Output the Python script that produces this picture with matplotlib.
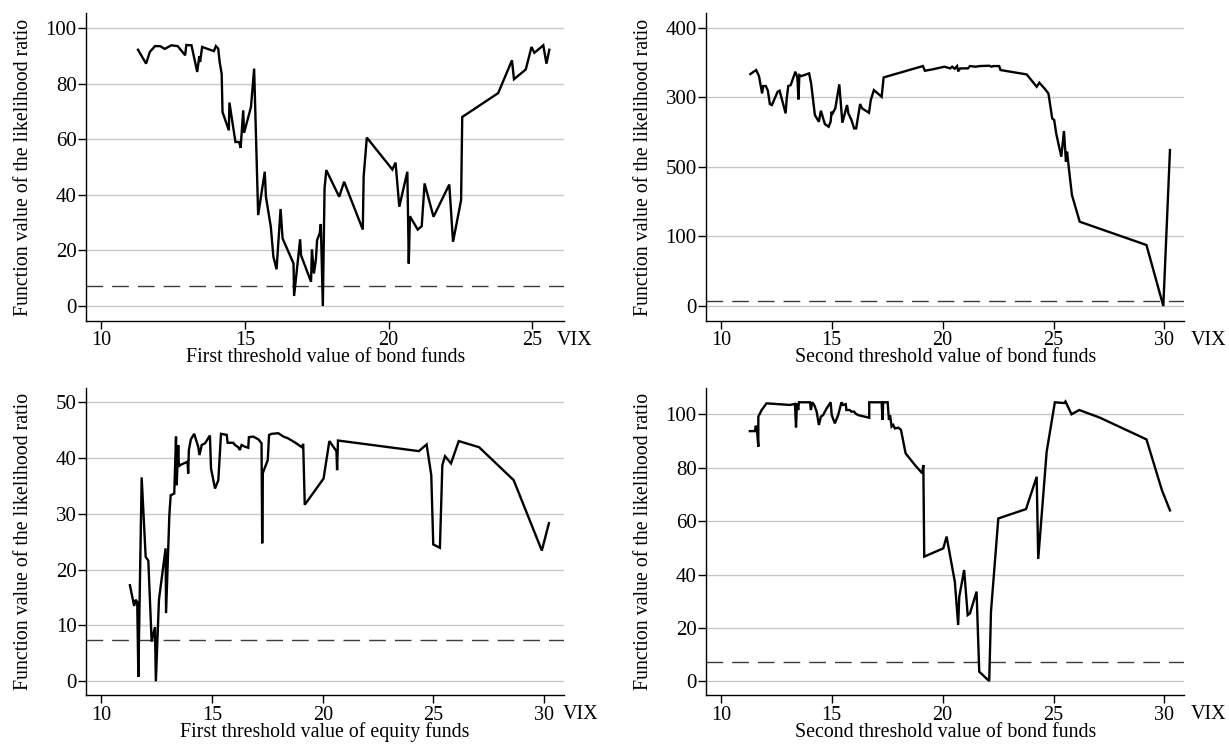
import matplotlib
matplotlib.use("Agg")
import matplotlib.pyplot as plt

plt.rcParams['font.family'] = ['Liberation Serif', 'DejaVu Serif']

# critical value of the likelihood ratio test (dashed line)
crit = 7.35

# first threshold, bond funds
bond1_vix = [11.28, 11.56, 11.69, 11.87, 12.05, 12.21, 12.44, 12.66, 12.92, 12.96,
             13.14, 13.34, 13.41, 13.44, 13.51, 13.92, 13.99, 14.07, 14.12, 14.19,
             14.22, 14.44, 14.46, 14.67, 14.80, 14.85, 14.94, 14.97, 15.21, 15.32,
             15.46, 15.69, 15.73, 15.90, 15.99, 16.10, 16.24, 16.31, 16.69, 16.71,
             16.92, 16.95, 17.30, 17.33, 17.40, 17.47, 17.51, 17.60, 17.64, 17.71,
             17.77, 17.83, 18.28, 18.45, 19.10, 19.13, 19.24, 20.13, 20.24, 20.37,
             20.65, 20.70, 20.74, 21.01, 21.15, 21.25, 21.56, 22.11, 22.24, 22.52,
             22.56, 23.81, 24.29, 24.36, 24.77, 24.97, 25.07, 25.38, 25.49, 25.59]
bond1_lr = [92.2, 87.2, 91.4, 93.5, 93.5, 92.5, 93.8, 93.5, 90.2, 93.9,
            93.8, 84.2, 89.8, 87.8, 93.2, 91.7, 93.5, 92.6, 87.8, 83.6,
            69.8, 63.2, 73.2, 59.0, 59.0, 56.9, 70.4, 62.3, 71.6, 85.4,
            32.7, 48.3, 39.3, 28.5, 17.7, 13.2, 34.9, 24.3, 15.3, 3.6,
            24.0, 18.3, 8.7, 20.4, 11.7, 16.8, 23.7, 26.1, 29.5, 0.0,
            42.3, 48.9, 39.3, 44.7, 27.5, 46.5, 60.6, 49.1, 51.6, 35.7,
            48.3, 15.3, 32.3, 27.5, 28.7, 44.1, 32.1, 43.7, 23.1, 38.1,
            68.0, 76.6, 88.4, 81.6, 85.1, 93.2, 91.1, 93.8, 87.2, 92.2]

# second threshold, bond funds (upper panel)
bond2_vix = [11.33, 11.59, 11.72, 11.86, 11.91, 12.03, 12.12, 12.21, 12.30, 12.56,
             12.65, 12.92, 12.97, 13.04, 13.15, 13.36, 13.45, 13.50, 13.54, 13.63,
             13.98, 14.07, 14.16, 14.24, 14.42, 14.51, 14.69, 14.86, 14.95, 14.99,
             15.04, 15.16, 15.34, 15.48, 15.69, 15.75, 15.89, 16.01, 16.10, 16.28,
             16.37, 16.68, 16.76, 16.90, 17.25, 17.34, 19.11, 19.20, 19.55, 20.08,
             20.34, 20.43, 20.54, 20.65, 20.70, 20.79, 21.14, 21.23, 21.49, 21.67,
             22.11, 22.20, 22.29, 22.55, 22.61, 23.79, 24.24, 24.36, 24.59, 24.77,
             24.94, 25.03, 25.12, 25.35, 25.47, 25.56, 25.61, 25.70, 25.83, 26.18,
             29.19, 29.95, 30.25]
bond2_lr = [333.4, 339.2, 330.5, 305.6, 316.2, 316.2, 309.5, 290.3, 288.9, 308.0,
            309.5, 276.9, 298.4, 316.2, 317.6, 336.8, 328.6, 297.0, 332.0, 330.5,
            334.4, 320.0, 296.0, 274.5, 264.9, 280.7, 261.6, 257.7, 264.9, 279.3,
            276.9, 284.1, 318.6, 263.5, 288.9, 276.9, 267.3, 255.3, 255.3, 290.3,
            284.1, 277.8, 296.0, 310.4, 300.8, 328.6, 344.9, 338.2, 340.2, 344.0,
            341.6, 344.0, 341.1, 344.9, 337.3, 341.6, 341.6, 344.9, 344.0, 344.9,
            345.4, 344.0, 344.9, 344.9, 339.2, 332.9, 315.2, 321.0, 312.8, 305.6,
            269.7, 267.3, 248.1, 214.6, 251.5, 207.4, 221.8, 195.4, 159.5, 121.2,
            87.7, 0.0, 224.2]
bond2_ticks = [0, 100, 200, 300, 400]
bond2_ticklabels = ['0', '100', '500', '300', '400']

# first threshold, equity funds
equity1_vix = [11.30, 11.49, 11.56, 11.63, 11.68, 11.83, 12.01, 12.13, 12.28, 12.43,
               12.47, 12.61, 12.91, 12.93, 13.08, 13.14, 13.30, 13.38, 13.41, 13.48,
               13.51, 13.56, 13.90, 13.93, 13.96, 14.05, 14.20, 14.38, 14.44, 14.54,
               14.69, 14.91, 14.96, 15.14, 15.29, 15.41, 15.67, 15.71, 15.96, 16.04,
               16.19, 16.26, 16.34, 16.49, 16.64, 16.67, 16.87, 17.10, 17.24, 17.27,
               17.30, 17.52, 17.58, 17.70, 18.00, 18.23, 18.43, 18.77, 19.06, 19.12,
               19.19, 20.04, 20.18, 20.30, 20.62, 20.65, 20.69, 24.34, 24.69, 24.90,
               24.99, 25.29, 25.40, 25.52, 25.79, 26.14, 27.06, 28.62, 29.89, 30.21]
equity1_lr = [17.2, 13.5, 14.6, 14.2, 0.8, 36.5, 22.3, 21.6, 7.1, 9.7,
              0.0, 14.6, 23.8, 12.2, 29.8, 33.3, 33.6, 43.8, 35.1, 42.3,
              38.4, 38.7, 39.3, 37.2, 41.4, 43.3, 44.3, 42.0, 40.5, 42.3,
              42.6, 44.0, 38.1, 34.5, 36.0, 44.3, 44.1, 42.7, 42.7, 42.3,
              41.9, 41.4, 42.3, 42.0, 41.8, 43.7, 43.8, 43.3, 42.6, 24.7,
              37.3, 39.6, 44.1, 44.3, 44.4, 43.8, 43.5, 42.7, 41.9, 42.5,
              31.6, 36.3, 39.9, 43.0, 41.2, 37.8, 43.1, 41.2, 42.4, 36.9,
              24.5, 23.9, 38.7, 40.3, 39.0, 43.0, 41.9, 36.0, 23.4, 28.3]

# second threshold, bond funds (lower panel)
bond3_vix = [11.31, 11.54, 11.57, 11.62, 11.69, 11.69, 11.84, 12.06, 13.12, 13.34,
             13.39, 13.43, 13.49, 13.52, 14.02, 14.06, 14.12, 14.21, 14.32, 14.42,
             14.51, 14.61, 14.77, 14.95, 15.00, 15.14, 15.29, 15.44, 15.51, 15.63,
             15.66, 15.81, 15.89, 16.01, 16.07, 16.19, 16.49, 16.69, 16.69, 17.25,
             17.29, 17.32, 17.52, 17.58, 17.63, 17.70, 17.77, 17.85, 18.00, 18.12,
             18.33, 18.75, 19.08, 19.13, 19.17, 20.03, 20.18, 20.33, 20.55, 20.70,
             20.75, 20.97, 21.13, 21.23, 21.53, 21.65, 22.10, 22.18, 22.51, 23.76,
             24.24, 24.31, 24.69, 25.06, 25.48, 25.54, 25.81, 26.16, 27.10, 29.19,
             29.89, 30.25]
bond3_lr = [93.7, 93.7, 95.7, 95.0, 87.9, 99.1, 101.6, 104.1, 103.5, 103.9,
            95.1, 104.1, 101.6, 104.5, 104.5, 101.6, 104.5, 103.5, 101.0, 96.0,
            99.1, 99.7, 102.2, 104.5, 99.7, 96.6, 99.7, 104.5, 103.5, 103.8,
            101.6, 101.6, 101.0, 101.0, 100.3, 99.7, 99.1, 98.7, 104.5, 104.5,
            97.9, 104.5, 104.5, 97.9, 99.6, 95.4, 96.0, 94.7, 95.0, 94.2,
            85.4, 81.0, 77.9, 81.0, 46.7, 49.8, 54.2, 47.3, 37.3, 21.1,
            31.7, 41.7, 24.8, 25.4, 33.6, 3.6, 0.1, 26.1, 61.0, 64.5,
            76.6, 45.8, 86.0, 104.5, 104.2, 104.8, 100.0, 101.6, 98.7, 90.6,
            71.5, 64.0]

ylabel = 'Function value of the likelihood ratio'

fig = plt.figure(figsize=(12.29, 7.45), dpi=100)

panels = [
    # x data, y data, axes rect, xlim, ylim, xticks, yticks, yticklabels, xlabel, vix x
    (bond1_vix, bond1_lr, [0.0702, 0.5695, 0.3887, 0.4126], (9.48, 26.1), (-5.3, 105.3),
     [10, 15, 20, 25], [0, 20, 40, 60, 80, 100], None,
     'First threshold value of bond funds', 0.985),
    (bond2_vix, bond2_lr, [0.5748, 0.5695, 0.3889, 0.4126], (9.35, 30.9), (-21.1, 420.7),
     [10, 15, 20, 25, 30], bond2_ticks, bond2_ticklabels,
     'Second threshold value of bond funds', 1.014),
    (equity1_vix, equity1_lr, [0.0702, 0.0667, 0.3887, 0.4125], (9.33, 30.89), (-2.5, 52.5),
     [10, 15, 20, 25, 30], [0, 10, 20, 30, 40, 50], None,
     'First threshold value of equity funds', 0.998),
    (bond3_vix, bond3_lr, [0.5748, 0.0667, 0.3889, 0.4125], (9.35, 30.9), (-5.24, 109.85),
     [10, 15, 20, 25, 30], [0, 20, 40, 60, 80, 100], None,
     'Second threshold value of bond funds', 1.014),
]

for xs, ys, rect, xlim, ylim, xt, yt, ytl, xlab, vix_x in panels:
    ax = fig.add_axes(rect)
    ax.plot(xs, ys, color='black', lw=1.7, solid_joinstyle='miter', zorder=3)
    dash = ax.axhline(crit, color='#3c3c3c', lw=1.0, zorder=2)
    dash.set_dashes((12, 6.5))
    ax.set_xlim(*xlim)
    ax.set_ylim(*ylim)
    ax.set_xticks(xt)
    ax.set_yticks(yt)
    if ytl is not None:
        ax.set_yticklabels(ytl)
    for y in yt:
        ax.axhline(y, color='#c8c8c8', lw=1.0, zorder=1)
    for s in ['top', 'right']:
        ax.spines[s].set_visible(False)
    for s in ['left', 'bottom']:
        ax.spines[s].set_linewidth(1.0)
    ax.tick_params(axis='x', length=6, width=1.0, pad=1.5, labelsize=14.5)
    ax.tick_params(axis='y', length=6, width=1.0, pad=1, labelsize=15)
    ax.set_xlabel(xlab, fontsize=14.3, va='center')
    ax.xaxis.set_label_coords(0.5, -0.121)
    ax.set_ylabel(ylabel, fontsize=14.3, va='center')
    ax.yaxis.set_label_coords(-0.131, 0.5)
    ax.text(vix_x, -0.064, 'VIX', transform=ax.transAxes, fontsize=14.5,
            ha='left', va='center')

fig.savefig('out.png', dpi=100)
